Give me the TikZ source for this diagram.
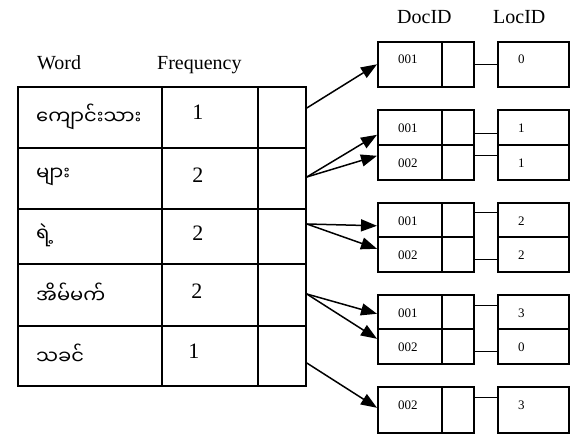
\documentclass[tikz,border=0pt]{standalone}
\usepackage{fontspec}
\setmainfont{Liberation Serif}
\newfontfamily\mya[Script=Myanmar]{Noto Sans Myanmar UI}
\usetikzlibrary{calc,arrows.meta}
\begin{document}
\begin{tikzpicture}[x=1pt,y=-1pt,
  cell/.style={draw, line width=1.8pt, inner sep=0pt, anchor=north west},
  bx/.style={draw, line width=1.6pt, inner sep=0pt, anchor=north west},
  hdr/.style={font=\fontsize{20}{20}\selectfont, inner sep=0pt, anchor=base west},
  wtxt/.style={font=\fontsize{19.5}{19.5}\mya, inner sep=0pt, anchor=west},
  num/.style={font=\fontsize{22}{22}\selectfont, inner sep=0pt},
  sm/.style={font=\fontsize{13}{13}\selectfont, inner sep=0pt},
  link/.style={line width=1.3pt},
  arr/.style={line width=1.5pt, -{Triangle[length=16pt,width=12pt]}}
]
\useasboundingbox (0,0) rectangle (573,435);
% headers
\node[hdr] (hw) at (37,70) {Word};
\node[hdr] (hf) at (157,70) {Frequency};
\node[hdr] (hd) at (397,24) {DocID};
\node[hdr] (hl) at (493,24) {LocID};
% table
\foreach \r/\y/\h in {1/86/61,2/147/61,3/208/55,4/263/62,5/325/60}{
  \node[cell, minimum width=144pt, minimum height=\h pt] (w\r) at (17,\y) {};
  \node[cell, minimum width=96pt, minimum height=\h pt] (f\r) at (161,\y) {};
  \node[cell, minimum width=48pt, minimum height=\h pt] (p\r) at (257,\y) {};
}
\node[wtxt] (t1) at ($(w1.west)+(19,-1)$) {ကျောင်းသား};
\node[wtxt] (t2) at ($(w2.west)+(19,-1)$) {များ};
\node[wtxt] (t3) at ($(w3.west)+(19,-1)$) {ရဲ့};
\node[wtxt] (t4) at ($(w4.west)+(19,-2)$) {အိမ်မက်};
\node[wtxt] (t5) at ($(w5.west)+(19,-2)$) {သခင်};
\node[num] (c1) at ($(f1.center)+(-12,-5)$) {1};
\node[num] (c2) at ($(f2.center)+(-12,-3)$) {2};
\node[num] (c3) at ($(f3.center)+(-12,-3)$) {2};
\node[num] (c4) at ($(f4.center)+(-13,-4)$) {2};
\node[num] (c5) at ($(f5.center)+(-16,-5)$) {1};
% posting boxes
\foreach \g/\y/\h in {1/41/45,2a/109/35,2b/144/35,3a/202/34,3b/236/35,4a/294/34,4b/328/35,5/386/46}{
  \node[bx, minimum width=64pt, minimum height=\h pt] (d\g) at (377,\y) {};
  \node[bx, minimum width=32pt, minimum height=\h pt] (n\g) at (441,\y) {};
  \node[bx, minimum width=71pt, minimum height=\h pt] (l\g) at (497,\y) {};
}
% texts in boxes
\node[sm] at ($(d1.center)+(-2,-5)$) {001};
\node[sm] at ($(l1.center)+(-12,-5)$) {0};
\node[sm] at ($(d2a.center)+(-2,1)$) {001};
\node[sm] at ($(l2a.center)+(-12,1)$) {1};
\node[sm] at ($(d2b.center)+(-2,1)$) {002};
\node[sm] at ($(l2b.center)+(-12,1)$) {1};
\node[sm] at ($(d3a.center)+(-2,1)$) {001};
\node[sm] at ($(l3a.center)+(-12,1)$) {2};
\node[sm] at ($(d3b.center)+(-2,1)$) {002};
\node[sm] at ($(l3b.center)+(-12,1)$) {2};
\node[sm] at ($(d4a.center)+(-2,1)$) {001};
\node[sm] at ($(l4a.center)+(-12,1)$) {3};
\node[sm] at ($(d4b.center)+(-2,1)$) {002};
\node[sm] at ($(l4b.center)+(-12,1)$) {0};
\node[sm] at ($(d5.center)+(-2,-5)$) {002};
\node[sm] at ($(l5.center)+(-12,-5)$) {3};
% links
\draw[link] (n1.east) -- (l1.west);
\draw[link] ($(n2a.east)+(0,6)$) -- ($(l2a.west)+(0,6)$);
\draw[link] ($(n2b.east)+(0,-7)$) -- ($(l2b.west)+(0,-7)$);
\draw[link] ($(n3a.east)+(0,-7)$) -- ($(l3a.west)+(0,-7)$);
\draw[link] ($(n3b.east)+(0,5.5)$) -- ($(l3b.west)+(0,5.5)$);
\draw[link] ($(n4a.east)+(0,-6)$) -- ($(l4a.west)+(0,-6)$);
\draw[link] ($(n4b.east)+(0,5.5)$) -- ($(l4b.west)+(0,5.5)$);
\draw[link] ($(n5.east)+(0,-12)$) -- ($(l5.west)+(0,-12)$);
% arrows
\draw[arr] ($(p1.north east)+(0,22)$) -- (d1.west);
\draw[arr] ($(p2.north east)+(0,30)$) -- ($(d2a.west)+(0,7.5)$);
\draw[arr] ($(p2.north east)+(0,30)$) -- ($(d2b.west)+(0,-6.5)$);
\draw[arr] ($(p3.north east)+(0,16)$) -- ($(d3a.west)+(0,6)$);
\draw[arr] ($(p3.north east)+(0,16)$) -- ($(d3b.west)+(0,-5.5)$);
\draw[arr] ($(p4.north east)+(0,31)$) -- ($(d4a.west)+(0,2)$);
\draw[arr] ($(p4.north east)+(0,31)$) -- ($(d4b.west)+(0,-7.5)$);
\draw[arr] ($(p5.north east)+(0,38)$) -- ($(d5.west)+(0,-2)$);
\end{tikzpicture}
\end{document}
